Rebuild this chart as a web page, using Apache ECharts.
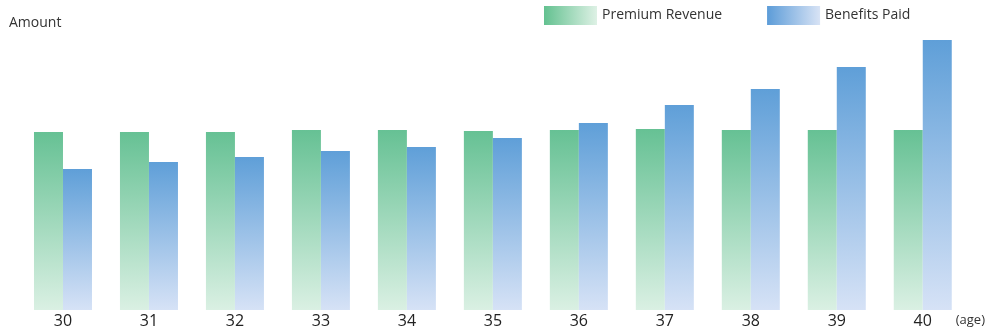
<!DOCTYPE html>
<html>
<head>
<meta charset="utf-8">
<script src="https://cdn.jsdelivr.net/npm/echarts@6/dist/echarts.min.js"></script>
<style>html,body{margin:0;padding:0;background:#fff}#c{width:988px;height:331px}</style>
</head>
<body>
<div id="c"></div>
<script>
var categories = ['30','31','32','33','34','35','36','37','38','39','40'];
var premiumRevenue = [178,178,178,180,180,179,180,181,180,180,180];
var benefitsPaid = [141,148,153,159,163,172,187,205,221,243,270];
var seriesNames = ['Premium Revenue','Benefits Paid'];

function vgrad(top, bottom){
  return new echarts.graphic.LinearGradient(0,0,0,1,[{offset:0,color:top},{offset:1,color:bottom}]);
}
function hgrad(left, right){
  return new echarts.graphic.LinearGradient(0,0,1,0,[{offset:0,color:left},{offset:1,color:right}]);
}
var FONT = '"Open Sans", "Noto Sans", sans-serif';
var chart = echarts.init(document.getElementById('c'), null, {renderer:'canvas'});
chart.setOption({
  animation:false,
  textStyle:{fontFamily:FONT},
  title:{text:'Amount', left:4, top:11, textStyle:{fontSize:14, fontWeight:'normal', color:'#333', fontFamily:FONT}},
  legend:{
    top:1, left:539, itemWidth:53, itemHeight:19, itemGap:45,
    textStyle:{fontSize:14, color:'#333', fontFamily:FONT, padding:[2,0,0,0]},
    data:[
      {name:seriesNames[0], icon:'rect', itemStyle:{color:hgrad('#63c190','#def1e5')}},
      {name:seriesNames[1], icon:'rect', itemStyle:{color:hgrad('#5c9cd8','#d8e3f5')}}
    ]
  },
  grid:{left:20, right:21.5, top:30, bottom:21, containLabel:false},
  xAxis:{
    type:'category', data:categories,
    axisLine:{show:false}, axisTick:{show:false},
    axisLabel:{fontSize:16, color:'#222', margin:3, fontFamily:FONT},
    name:'(age)', nameLocation:'end', nameGap:-10,
    nameTextStyle:{fontSize:13, color:'#333', align:'left', verticalAlign:'top', padding:[4,0,0,0], fontFamily:FONT}
  },
  yAxis:{
    type:'value', min:0, max:280,
    axisLine:{show:false}, axisTick:{show:false}, axisLabel:{show:false}, splitLine:{show:false}
  },
  series:[
    {name:seriesNames[0], type:'bar', data:premiumRevenue, barWidth:29, barGap:'0%',
     itemStyle:{color:vgrad('#66c194','#daf0e3')}},
    {name:seriesNames[1], type:'bar', data:benefitsPaid, barWidth:29, barGap:'0%',
     itemStyle:{color:vgrad('#5f9fd8','#d6e2f6')}}
  ]
});
</script>
</body>
</html>
